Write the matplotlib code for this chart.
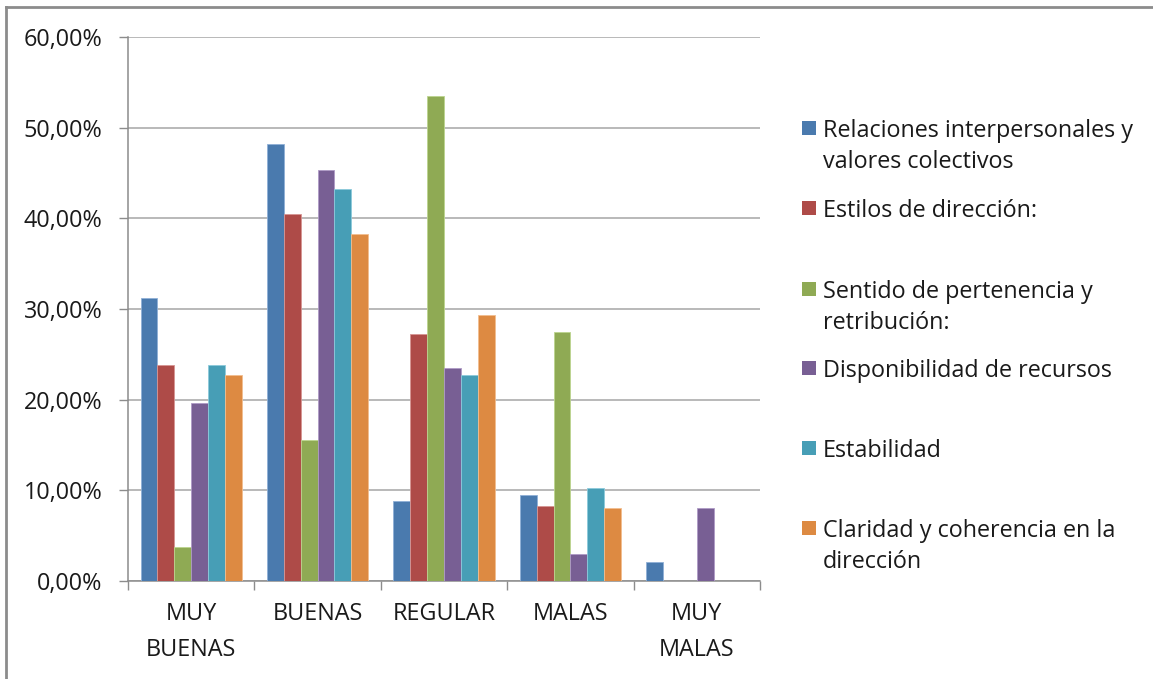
import matplotlib
matplotlib.use("Agg")
import matplotlib.pyplot as plt
import numpy as np
from matplotlib.ticker import FuncFormatter, FixedLocator
from matplotlib.lines import Line2D
from matplotlib.patches import Rectangle

categories = ["MUY\nBUENAS", "BUENAS", "REGULAR", "MALAS", "MUY\nMALAS"]

series_names = [
    "Relaciones interpersonales y\nvalores colectivos",
    "Estilos de dirección:",
    "Sentido de pertenencia y\nretribución:",
    "Disponibilidad de recursos",
    "Estabilidad",
    "Claridad y coherencia en la\ndirección",
]

relaciones = [31.2, 48.2, 8.8, 9.5, 2.1]
estilos = [23.8, 40.5, 27.2, 8.2, 0.0]
pertenencia = [3.7, 15.5, 53.5, 27.5, 0.0]
recursos = [19.6, 45.3, 23.5, 3.0, 8.0]
estabilidad = [23.8, 43.2, 22.7, 10.2, 0.0]
claridad = [22.7, 38.3, 29.3, 8.0, 0.0]

series_values = [relaciones, estilos, pertenencia, recursos, estabilidad, claridad]
colors = ["#4A7AAE", "#AE4B48", "#8FAA54", "#785F94", "#479EB6", "#DD8A42"]
edge_colors = ["#8FB0D6", "#D69593", "#BCD48E", "#AE9AC6", "#8CCADB", "#F2BE8F"]

y_ticks = [0, 10, 20, 30, 40, 50, 60]

FONT = "Open Sans"
FS = 16.8
plt.rcParams["font.family"] = [FONT, "DejaVu Sans"]

W, H = 1153, 679
fig = plt.figure(figsize=(W / 100, H / 100), dpi=100)
fig.patch.set_facecolor("white")

left, right = 128 / W, 760 / W
bottom, top = (H - 580.7) / H, (H - 37.3) / H
ax = fig.add_axes([left, bottom, right - left, top - bottom])

n_series = len(series_values)
bar_w = 0.8 / n_series
x = np.arange(len(categories))
for i, (vals, c, ec) in enumerate(zip(series_values, colors, edge_colors)):
    offs = (i - (n_series - 1) / 2) * bar_w
    ax.bar(x + offs, vals, width=bar_w, color=c, edgecolor=ec,
           linewidth=0.6, zorder=3)

ax.set_xlim(-0.5, len(categories) - 0.5)
ax.set_ylim(0, 60)
ax.yaxis.set_major_locator(FixedLocator(y_ticks))
ax.yaxis.set_major_formatter(
    FuncFormatter(lambda v, p: f"{v:.2f}".replace(".", ",") + "%"))

ax.grid(axis="y", color="#A6A6A6", linewidth=1.1, zorder=0)
ax.set_axisbelow(True)

for s in ["top", "right"]:
    ax.spines[s].set_visible(False)
for s in ["left", "bottom"]:
    ax.spines[s].set_color("#8C8C8C")
    ax.spines[s].set_linewidth(1.1)

ax.tick_params(axis="y", length=6.5, width=1.0, color="#8C8C8C",
               pad=12, labelsize=FS, labelcolor="#1A1A1A")
ax.set_xticks(x)
ax.set_xticklabels(categories, fontsize=FS, color="#1A1A1A", linespacing=1.7)
ax.tick_params(axis="x", which="major", length=0, pad=15)
ax.set_xticks(np.arange(len(categories) + 1) - 0.5, minor=True)
ax.tick_params(axis="x", which="minor", length=6.5, width=1.0, color="#8C8C8C")
for lbl in ax.get_xticklabels():
    lbl.set_verticalalignment("top")

# legend drawn on the figure, right of the plot area; one text per line
legend_tops = [128, 208, 289, 368, 448, 528]
LINE_STEP = 31
for name, c, ty in zip(series_names, colors, legend_tops):
    fig.patches.append(Rectangle((802 / W, (H - ty - 7) / H), 14 / W, 14 / H,
                                 transform=fig.transFigure, facecolor=c,
                                 edgecolor="none"))
    for k, line in enumerate(name.split("\n")):
        fig.text(823 / W, (H - ty - k * LINE_STEP) / H, line, fontsize=FS,
                 color="#1A1A1A", va="center_baseline", ha="left")

# outer chart frame (left and top edges)
fig.add_artist(Line2D([6 / W, 6 / W], [0, (H - 7) / H],
                      transform=fig.transFigure, color="#8C8C8C", linewidth=2))
fig.add_artist(Line2D([6 / W, 1], [(H - 7) / H, (H - 7) / H],
                      transform=fig.transFigure, color="#8C8C8C", linewidth=2))

fig.savefig("out.png", dpi=100, facecolor="white")
